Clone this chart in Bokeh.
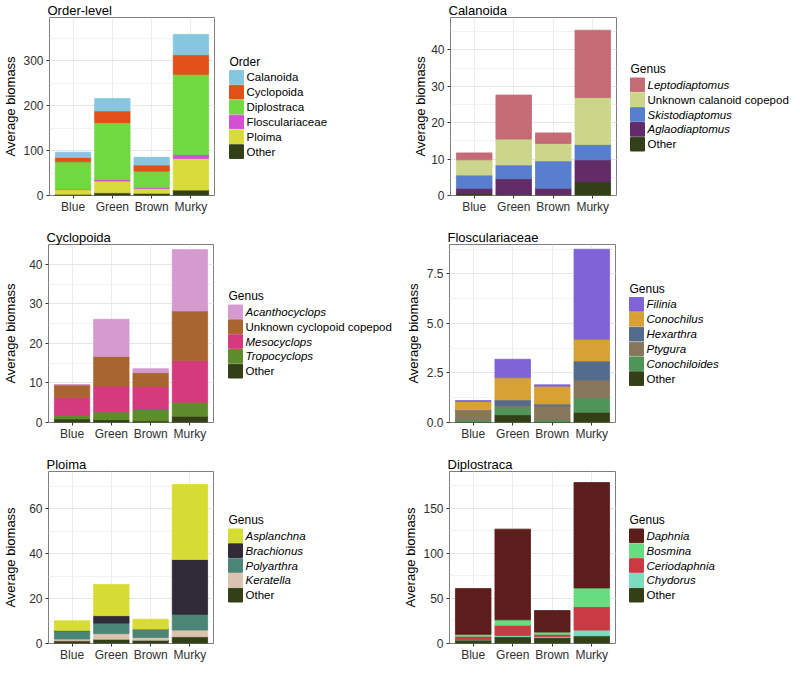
from bokeh.plotting import figure
from bokeh.models import Range1d, SingleIntervalTicker, NumeralTickFormatter, ColumnDataSource
from bokeh.layouts import column, row
from bokeh.embed import file_html
from bokeh.resources import INLINE
from bokeh.core.properties import value

FONT = "Liberation Sans"

habitats = ["Blue", "Green", "Brown", "Murky"]

# ---- Order-level (legend order = top of stack first) ----
order_names = ["Calanoida", "Cyclopoida", "Diplostraca", "Flosculariaceae", "Ploima", "Other"]
order_calanoida = [11.7, 27.6, 17.2, 45.4]
order_cyclopoida = [9.6, 26.1, 13.6, 43.7]
order_diplostraca = [61.0, 127.0, 36.6, 178.7]
order_flosculariaceae = [1.1, 3.2, 1.9, 8.7]
order_ploima = [10.1, 26.3, 10.8, 70.8]
order_other = [3.0, 6.0, 5.0, 12.0]

# ---- Calanoida ----
cal_names = ["Leptodiaptomus", "Unknown calanoid copepod", "Skistodiaptomus", "Aglaodiaptomus", "Other"]
cal_leptodiaptomus = [1.9, 12.1, 2.9, 18.5]
cal_unknown = [4.2, 7.1, 4.8, 12.9]
cal_skistodiaptomus = [3.6, 3.8, 7.5, 4.2]
cal_aglaodiaptomus = [1.4, 4.3, 1.7, 6.0]
cal_other = [0.6, 0.3, 0.3, 3.8]

# ---- Cyclopoida ----
cyc_names = ["Acanthocyclops", "Unknown cyclopoid copepod", "Mesocyclops", "Tropocyclops", "Other"]
cyc_acanthocyclops = [0.1, 9.4, 1.0, 15.5]
cyc_unknown = [3.1, 7.5, 3.5, 12.6]
cyc_mesocyclops = [4.6, 6.5, 5.8, 10.5]
cyc_tropocyclops = [0.9, 2.0, 2.9, 3.5]
cyc_other = [0.9, 0.7, 0.4, 1.6]

# ---- Flosculariaceae ----
flo_names = ["Filinia", "Conochilus", "Hexarthra", "Ptygura", "Conochiloides", "Other"]
flo_filinia = [0.05, 0.93, 0.07, 4.54]
flo_conochilus = [0.43, 1.12, 0.90, 1.10]
flo_hexarthra = [0.03, 0.30, 0.09, 0.95]
flo_ptygura = [0.48, 0.10, 0.72, 0.91]
flo_conochiloides = [0.09, 0.35, 0.07, 0.72]
flo_other = [0.03, 0.39, 0.05, 0.52]

# ---- Ploima ----
plo_names = ["Asplanchna", "Brachionus", "Polyarthra", "Keratella", "Other"]
plo_asplanchna = [4.3, 13.9, 4.4, 33.4]
plo_brachionus = [0.1, 3.3, 0.1, 24.4]
plo_polyarthra = [3.7, 4.7, 3.6, 7.0]
plo_keratella = [0.8, 2.5, 1.2, 3.0]
plo_other = [1.2, 1.9, 1.5, 3.0]

# ---- Diplostraca ----
dip_names = ["Daphnia", "Bosmina", "Ceriodaphnia", "Chydorus", "Other"]
dip_daphnia = [50.8, 100.7, 23.9, 117.0]
dip_bosmina = [2.1, 6.0, 2.5, 20.8]
dip_ceriodaphnia = [3.9, 11.3, 2.7, 26.0]
dip_chydorus = [0.2, 1.5, 1.0, 6.4]
dip_other = [4.0, 7.5, 6.5, 8.5]

OTHER_C = "#333f17"

panels = [
    dict(title="Order-level", leg="Order", names=order_names,
         vals=[order_calanoida, order_cyclopoida, order_diplostraca, order_flosculariaceae, order_ploima, order_other],
         italic=[False] * 6,
         colors=["#86c6df", "#e05119", "#71d940", "#d44fd2", "#d9db3a", OTHER_C],
         ytop=397, interval=100, fmt=None, std=2),
    dict(title="Calanoida", leg="Genus", names=cal_names,
         vals=[cal_leptodiaptomus, cal_unknown, cal_skistodiaptomus, cal_aglaodiaptomus, cal_other],
         italic=[True, False, True, True, False],
         colors=["#c56b76", "#ccd68a", "#587fcd", "#612c68", OTHER_C],
         ytop=48.9, interval=10, fmt=None, std=0),
    dict(title="Cyclopoida", leg="Genus", names=cyc_names,
         vals=[cyc_acanthocyclops, cyc_unknown, cyc_mesocyclops, cyc_tropocyclops, cyc_other],
         italic=[True, False, True, True, False],
         colors=["#d59ad0", "#a9652f", "#d5397e", "#5f8c2b", OTHER_C],
         ytop=45.0, interval=10, fmt=None, std=8),
    dict(title="Flosculariaceae", leg="Genus", names=flo_names,
         vals=[flo_filinia, flo_conochilus, flo_hexarthra, flo_ptygura, flo_conochiloides, flo_other],
         italic=[True, True, True, True, True, False],
         colors=["#8064d7", "#d7a135", "#536b8c", "#85765c", "#4f9459", OTHER_C],
         ytop=8.98, interval=2.5, fmt="0.0", std=3),
    dict(title="Ploima", leg="Genus", names=plo_names,
         vals=[plo_asplanchna, plo_brachionus, plo_polyarthra, plo_keratella, plo_other],
         italic=[True, True, True, True, False],
         colors=["#d7dc35", "#302a39", "#4a8576", "#dbc3b0", OTHER_C],
         ytop=76.6, interval=20, fmt=None, std=8),
    dict(title="Diplostraca", leg="Genus", names=dip_names,
         vals=[dip_daphnia, dip_bosmina, dip_ceriodaphnia, dip_chydorus, dip_other],
         italic=[True, True, True, True, False],
         colors=["#5b1e1d", "#66dd80", "#c93a45", "#7adcc0", OTHER_C],
         ytop=191, interval=50, fmt=None, std=2),
]

# layout (pixels)
FH = [178, 178, 172]       # frame heights per row
BT = [14, 17, 20]          # top borders per row
BB = [32, 29, 20]          # bottom borders per row
FW = [165, 166]            # frame widths per column
BL = [44, 53]              # left borders per column
BR = 4
LEG_W = [179, 169]
LEG_KEY_X = [11, 10]
PITCH = 14.85


def make_panel(cfg, r, c):
    p = figure(x_range=habitats, y_range=Range1d(0, cfg["ytop"]),
               frame_width=FW[c], frame_height=FH[r],
               output_backend="svg", toolbar_location=None,
               min_border_left=BL[c], min_border_right=BR,
               min_border_top=BT[r], min_border_bottom=BB[r],
               background_fill_color="white", border_fill_color="white",
               outline_line_color="#7f7f7f", outline_line_width=1)
    p.x_range.range_padding = 0.05
    p.title.text = cfg["title"]
    p.title.text_font = FONT
    p.title.text_font_size = "13px"
    p.title.text_font_style = "normal"
    p.title.text_color = "black"
    p.title.standoff = 0
    p.title.offset = -2

    keys = ["s%d" % i for i in range(len(cfg["names"]))]
    data = {"habitat": habitats}
    for k, v in zip(keys, cfg["vals"]):
        data[k] = v
    src = ColumnDataSource(data)
    stack_keys = list(reversed(keys))
    stack_cols = list(reversed(cfg["colors"]))
    p.vbar_stack(stack_keys, x="habitat", width=0.9, source=src,
                 fill_color=stack_cols, line_color=stack_cols, line_width=0.8)

    p.yaxis.ticker = SingleIntervalTicker(interval=cfg["interval"], num_minor_ticks=2)
    if cfg["fmt"]:
        p.yaxis.formatter = NumeralTickFormatter(format=cfg["fmt"])
    p.ygrid.grid_line_color = "#e6e6e6"
    p.ygrid.minor_grid_line_color = "#f2f2f2"
    p.xgrid.grid_line_color = "#ececec"
    for ax in (p.xaxis, p.yaxis):
        ax.axis_line_color = None
        ax.major_tick_line_color = "#333333"
        ax.major_tick_out = 3
        ax.major_tick_in = 0
        ax.minor_tick_line_color = None
        ax.major_label_text_font = FONT
        ax.major_label_text_font_size = "12px"
        ax.major_label_text_color = "#303030"
    p.xaxis.major_label_standoff = 1
    p.yaxis.major_label_standoff = 2
    p.yaxis.axis_label = "Average biomass"
    p.yaxis.axis_label_text_font = FONT
    p.yaxis.axis_label_text_font_size = "13px"
    p.yaxis.axis_label_text_font_style = "normal"
    p.yaxis.axis_label_text_color = "black"
    p.yaxis.axis_label_standoff = cfg["std"]
    return p


def make_legend(cfg, r, c):
    w, fh = LEG_W[c], FH[r]
    center = fh / 2 + 8
    n = len(cfg["names"])
    ys = [center + (i - (n - 1) / 2) * PITCH for i in range(n)]
    kx = LEG_KEY_X[c]
    lf = figure(frame_width=w, frame_height=fh, x_range=Range1d(0, w), y_range=Range1d(fh, 0),
                output_backend="svg", toolbar_location=None,
                min_border_left=0, min_border_right=0,
                min_border_top=BT[r], min_border_bottom=BB[r],
                x_axis_location=None, y_axis_location=None, outline_line_color=None,
                background_fill_color="white", border_fill_color="white")
    lf.grid.visible = False
    src = ColumnDataSource(dict(
        x=[kx + 7] * n, tx=[kx + 17] * n, y=ys, name=cfg["names"], color=cfg["colors"],
        style=["italic" if it else "normal" for it in cfg["italic"]]))
    lf.rect(x="x", y="y", width=14, height=13.6, source=src,
            fill_color="color", line_color="color")
    lf.text(x="tx", y="y", text="name", source=src, text_font=value(FONT),
            text_font_size=value("11.5px"), text_font_style="style",
            text_baseline="middle", text_align="left", text_color="black")
    lf.text(x=[kx], y=[ys[0] - 15.5], text=[cfg["leg"]], text_font=value(FONT),
            text_font_size=value("12px"), text_baseline="middle", text_align="left",
            text_color="black")
    return lf


rows = []
for r in range(3):
    items = []
    for c in range(2):
        cfg = panels[r * 2 + c]
        items.append(make_panel(cfg, r, c))
        items.append(make_legend(cfg, r, c))
    rows.append(row(*items))

layout = column(*rows)
open("out.html", "w").write(file_html(layout, INLINE))
